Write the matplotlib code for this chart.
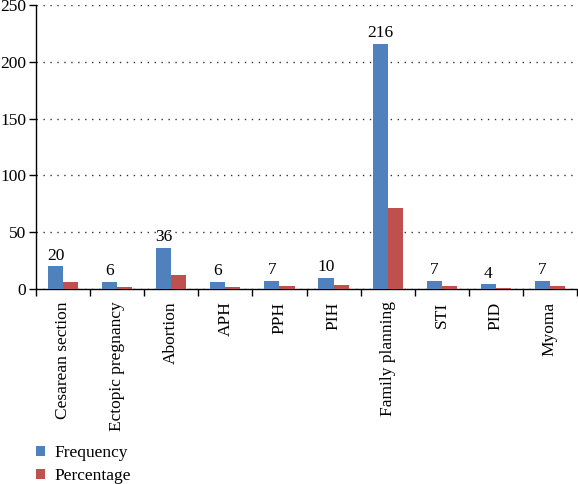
import matplotlib.pyplot as plt
import numpy as np

categories = [
    "Cesarean section",
    "Ectopic pregnancy",
    "Abortion",
    "APH",
    "PPH",
    "PIH",
    "Family planning",
    "STI",
    "PID",
    "Myoma",
]
frequency = [20, 6, 36, 6, 7, 10, 216, 7, 4, 7]
percentage = [6.6, 2.0, 11.9, 2.0, 2.3, 3.3, 71.3, 2.3, 1.3, 2.3]

blue = "#4F81BD"
red = "#C0504D"
fs = 12.5

plt.rcParams["font.family"] = ["Liberation Serif", "DejaVu Serif"]

fig = plt.figure(figsize=(5.78, 4.84), dpi=100)
ax = fig.add_axes([36 / 578, 1 - 289 / 484, 541 / 578, 284 / 484])

x = np.arange(len(categories))
w = 0.28
ax.bar(x - w / 2, frequency, width=w, color=blue, label="Frequency", zorder=3)
ax.bar(x + w / 2, percentage, width=w, color=red, label="Percentage", zorder=3)

for xi, v in zip(x, frequency):
    ax.annotate(str(v), (xi - w / 2, v), xytext=(0, 2), textcoords="offset points",
                ha="center", va="bottom", fontsize=fs)

ax.set_xlim(-0.5, len(categories) - 0.5)
ax.set_ylim(0, 250)
ax.set_yticks(np.arange(0, 251, 50))
ax.tick_params(axis="y", labelsize=fs, length=5, width=1, pad=2)

ax.set_xticks(x)
ax.set_xticklabels(categories, rotation=90, fontsize=fs)
ax.tick_params(axis="x", which="major", length=0, pad=9)
ax.set_xticks(np.arange(-0.5, len(categories), 1), minor=True)
ax.tick_params(axis="x", which="minor", length=5, width=1)

for s in ["top", "right"]:
    ax.spines[s].set_visible(False)
ax.spines["left"].set_linewidth(1)
ax.spines["bottom"].set_linewidth(1)

ax.yaxis.grid(True, linestyle=(0, (1, 4)), color="#333333", linewidth=1, zorder=0)
ax.set_axisbelow(True)

handles, labels = ax.get_legend_handles_labels()
fig.legend(handles, labels, loc="upper left", bbox_to_anchor=(0.062, 0.08),
           frameon=False, fontsize=fs, handlelength=0.5, handleheight=0.5,
           labelspacing=0.38, handletextpad=0.6, borderaxespad=0, borderpad=0)

fig.savefig("out.png", dpi=100)
